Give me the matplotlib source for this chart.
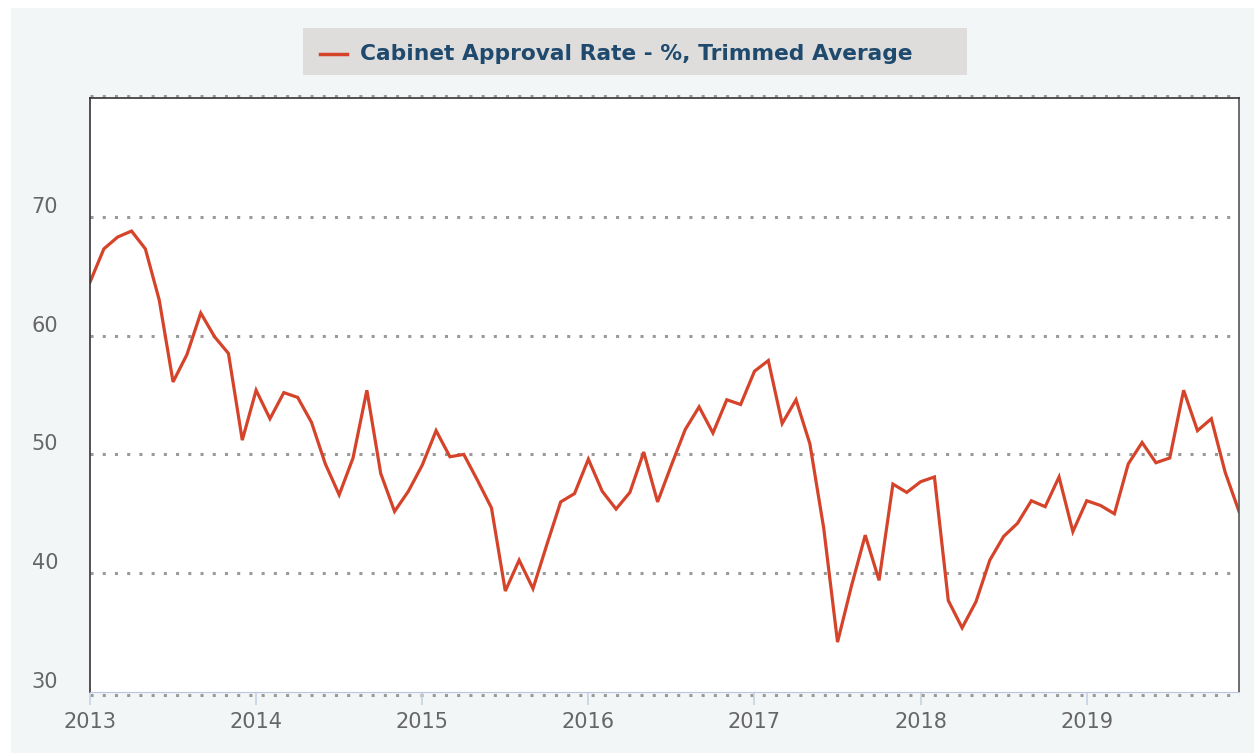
import matplotlib.pyplot as plt
import matplotlib.transforms as mtransforms
import numpy as np

# monthly values, Jan 2013 - Dec 2019
approval = [64.5, 67.3, 68.3, 68.8, 67.3, 63.0, 56.1, 58.4, 61.9, 59.9, 58.5, 51.2,
            55.4, 53.0, 55.2, 54.8, 52.7, 49.2, 46.6, 49.7, 55.4, 48.4, 45.2, 46.9,
            49.1, 52.0, 49.8, 50.0, 47.8, 45.5, 38.5, 41.1, 38.7, 42.4, 46.0, 46.7,
            49.6, 46.9, 45.4, 46.8, 50.2, 46.0, 49.1, 52.1, 54.0, 51.8, 54.6, 54.2,
            57.0, 57.9, 52.6, 54.6, 50.9, 43.8, 34.2, 38.9, 43.2, 39.4, 47.5, 46.8,
            47.7, 48.1, 37.7, 35.4, 37.6, 41.1, 43.1, 44.2, 46.1, 45.6, 48.1, 43.5,
            46.1, 45.7, 45.0, 49.2, 51.0, 49.3, 49.7, 55.4, 52.0, 53.0, 48.5, 45.2]
start_year = 2013
years = [2013, 2014, 2015, 2016, 2017, 2018, 2019]
yticks = [30, 40, 50, 60, 70]
series_name = "Cabinet Approval Rate - %, Trimmed Average"

t = start_year + np.arange(len(approval)) / 12.0

W, H = 1254, 753
fig = plt.figure(figsize=(W/100, H/100), dpi=100)
fig.patch.set_facecolor('white')
# light grey panel behind everything
fig.patches.append(plt.Rectangle((11/W, 0), 1 - 11/W, 1 - 8/H, transform=fig.transFigure,
                                 facecolor='#f3f6f7', edgecolor='none', zorder=-10))

ax = fig.add_axes([90/W, 1 - 692/H, (1239-90)/W, (692-98)/H])
ax.set_facecolor('white')

ax.plot(t, approval, color='#d5442a', lw=2.3, solid_joinstyle='miter')

ax.set_xlim(t[0], t[-1])
ax.set_ylim(30, 80)

dots = dict(color='#9a9a9a', lw=2.2, ls=(0, (1, 3)), zorder=0, clip_on=False)
for v in [40, 50, 60, 70]:
    ax.axhline(v, **dots)
up = ax.get_yaxis_transform() + mtransforms.ScaledTranslation(0, 2/100, fig.dpi_scale_trans)
ax.plot([0, 1], [80, 80], transform=up, **dots)
down = ax.get_yaxis_transform() + mtransforms.ScaledTranslation(0, -3/100, fig.dpi_scale_trans)
ax.plot([0, 1], [30, 30], transform=down, **dots)

ax.set_yticks(yticks)
ax.set_yticklabels([str(v) for v in yticks])
ax.tick_params(axis='y', length=0, pad=23, labelsize=15, labelcolor='#666666')
for lab in ax.get_yticklabels():
    lab.set_transform(lab.get_transform() + mtransforms.ScaledTranslation(0, 12/100, fig.dpi_scale_trans))

ax.set_xticks(years)
ax.set_xticklabels([str(y) for y in years])
ax.tick_params(axis='x', length=9.5, width=1.2, color='#c6d2e4', pad=4.6,
               labelsize=15, labelcolor='#666666')

ax.spines['top'].set_color('#333333')
ax.spines['left'].set_color('#333333')
ax.spines['right'].set_color('#555555')
ax.spines['bottom'].set_color('#b9c6dc')
for s in ['top', 'left', 'right']:
    ax.spines[s].set_linewidth(1.2)

# legend box
fig.patches.append(plt.Rectangle((303/W, 1 - 75/H), (967-303)/W, 47/H,
                                 transform=fig.transFigure, facecolor='#dedddc',
                                 edgecolor='none'))
fig.lines.append(plt.Line2D([320/W, 347/W], [1 - 54/H, 1 - 54/H],
                            transform=fig.transFigure, color='#d5442a', lw=2.5))
fig.text(360/W, 1 - 54/H, series_name, fontsize=15.7, fontweight='bold',
         color='#1f4a6e', va='center', ha='left')

fig.savefig('out.png', dpi=100, facecolor=fig.get_facecolor())
